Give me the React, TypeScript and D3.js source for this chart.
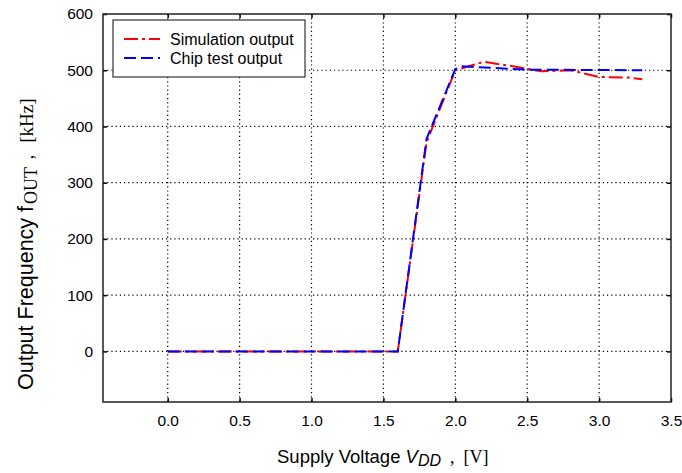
import React, { useEffect, useRef } from 'react';
import * as d3 from 'd3';

// supply voltage sweep
const simVoltage = [0.0, 1.6, 1.8, 2.0, 2.2, 2.4, 2.6, 2.8, 3.0, 3.2, 3.3];
const simFreq = [0, 0, 372, 500, 515, 507, 498, 500, 488, 487, 484];

const chipVoltage = [0.0, 1.6, 1.8, 2.0, 2.05, 2.5, 3.3];
const chipFreq = [0, 0, 378, 502, 507, 501, 500];

const xTicks = [0.0, 0.5, 1.0, 1.5, 2.0, 2.5, 3.0, 3.5];
const yTicks = [0, 100, 200, 300, 400, 500, 600];

const legendLabels = ['Simulation output', 'Chip test output'];

const sans = 'Arial, "Liberation Sans", sans-serif';
const serif = '"Times New Roman", "Liberation Serif", serif';

export default function App() {
  const chartRef = useRef<SVGSVGElement>(null);

  const drawChart = () => {
    const width = 682;
    const height = 473;
    const margin = { top: 14, right: 11, bottom: 71, left: 103 };
    const w = width - margin.left - margin.right;
    const h = height - margin.top - margin.bottom;

    const svg = d3.select(chartRef.current);
    svg.selectAll('*').remove();

    const g = svg.append('g').attr('transform', 'translate(' + margin.left + ',' + margin.top + ')');

    const x = d3.scaleLinear().domain([-0.45, 3.5]).range([0, w]);
    const y = d3.scaleLinear().domain([-90, 600]).range([h, 0]);

    // dotted grid
    g.append('g')
      .selectAll('line')
      .data(xTicks.filter((d) => d < 3.5))
      .enter()
      .append('line')
      .attr('x1', (d) => x(d))
      .attr('x2', (d) => x(d))
      .attr('y1', 0)
      .attr('y2', h)
      .attr('stroke', '#000')
      .attr('stroke-width', 1.2)
      .attr('stroke-dasharray', '1.2,3');
    g.append('g')
      .selectAll('line')
      .data(yTicks.filter((d) => d < 600))
      .enter()
      .append('line')
      .attr('x1', 0)
      .attr('x2', w)
      .attr('y1', (d) => y(d))
      .attr('y2', (d) => y(d))
      .attr('stroke', '#000')
      .attr('stroke-width', 1.2)
      .attr('stroke-dasharray', '1.2,3');

    // axes with inward ticks
    const styleAxis = (sel: any) => {
      sel.select('.domain').remove();
      sel.selectAll('line').attr('stroke', '#000').attr('stroke-width', 1.5);
      sel.selectAll('text').attr('font-family', sans).attr('font-size', 15.5).attr('fill', '#000');
    };
    g.append('g')
      .attr('transform', 'translate(0,' + h + ')')
      .call(d3.axisBottom(x).tickValues(xTicks).tickFormat(d3.format('.1f')).tickSizeInner(-4).tickPadding(13))
      .call(styleAxis);
    g.append('g')
      .call(d3.axisTop(x).tickValues(xTicks).tickSizeInner(-4).tickFormat(() => ''))
      .call(styleAxis);
    g.append('g')
      .call(d3.axisLeft(y).tickValues(yTicks).tickSizeInner(-4).tickPadding(10))
      .call(styleAxis);
    g.append('g')
      .attr('transform', 'translate(' + w + ',0)')
      .call(d3.axisRight(y).tickValues(yTicks).tickSizeInner(-4).tickFormat(() => ''))
      .call(styleAxis);

    // frame
    g.append('rect')
      .attr('width', w)
      .attr('height', h)
      .attr('fill', 'none')
      .attr('stroke', '#222')
      .attr('stroke-width', 1.5);

    const line = d3
      .line<[number, number]>()
      .x((d) => x(d[0]))
      .y((d) => y(d[1]));

    const simData = simVoltage.map((v, i) => [v, simFreq[i]] as [number, number]);
    const chipData = chipVoltage.map((v, i) => [v, chipFreq[i]] as [number, number]);

    g.append('path')
      .datum(simData)
      .attr('d', line)
      .attr('fill', 'none')
      .attr('stroke', '#ff0000')
      .attr('stroke-width', 2)
      .attr('stroke-dasharray', '14,4,3,4');
    g.append('path')
      .datum(chipData)
      .attr('d', line)
      .attr('fill', 'none')
      .attr('stroke', '#0000ff')
      .attr('stroke-width', 2)
      .attr('stroke-dasharray', '12,5');

    // legend
    const lg = svg.append('g').attr('transform', 'translate(113,20)');
    lg.append('rect')
      .attr('width', 192)
      .attr('height', 57)
      .attr('fill', '#fff')
      .attr('stroke', '#333')
      .attr('stroke-width', 1.2);
    const colors = ['#ff0000', '#0000ff'];
    const dashes = ['14,4,3,4', '12,5'];
    legendLabels.forEach((label, i) => {
      const yy = 19 + i * 19;
      lg.append('line')
        .attr('x1', 11)
        .attr('x2', 47)
        .attr('y1', yy)
        .attr('y2', yy)
        .attr('stroke', colors[i])
        .attr('stroke-width', 2)
        .attr('stroke-dasharray', dashes[i]);
      lg.append('text')
        .attr('x', 57)
        .attr('y', yy + 5.5)
        .attr('font-family', sans)
        .attr('font-size', 16)
        .text(label);
    });

    // x label
    const xl = svg
      .append('text')
      .attr('x', 277)
      .attr('y', 463)
      .attr('font-family', sans)
      .attr('font-size', 18.5);
    xl.append('tspan').text('Supply Voltage ');
    xl.append('tspan').attr('font-style', 'italic').text('V');
    xl.append('tspan').attr('font-style', 'italic').attr('font-size', 16).attr('dy', 3).text('DD');
    xl.append('tspan').attr('font-family', serif).attr('font-size', 18).attr('dy', -3).attr('dx', 9).text(',');
    xl.append('tspan').attr('font-family', serif).attr('font-size', 18).attr('dx', 9).text('[V]');

    // y label
    const yl = svg
      .append('text')
      .attr('transform', 'translate(33,390) rotate(-90)')
      .attr('font-family', sans)
      .attr('font-size', 21.5);
    yl.append('tspan').text('Output Frequency f');
    yl.append('tspan').attr('font-family', serif).attr('font-size', 18).attr('dy', 4).attr('dx', 2).text('OUT');
    yl.append('tspan').attr('font-family', serif).attr('font-size', 18).attr('dy', -4).attr('dx', 9).text(',');
    yl.append('tspan').attr('font-family', serif).attr('font-size', 19).attr('dx', 12).text('[kHz]');
  };

  useEffect(() => {
    drawChart();
  }, []);

  return (
    <svg
      ref={chartRef}
      width={682}
      height={473}
      style={{ position: 'absolute', left: 0, top: 0, background: '#fff' }}
    />
  );
}
